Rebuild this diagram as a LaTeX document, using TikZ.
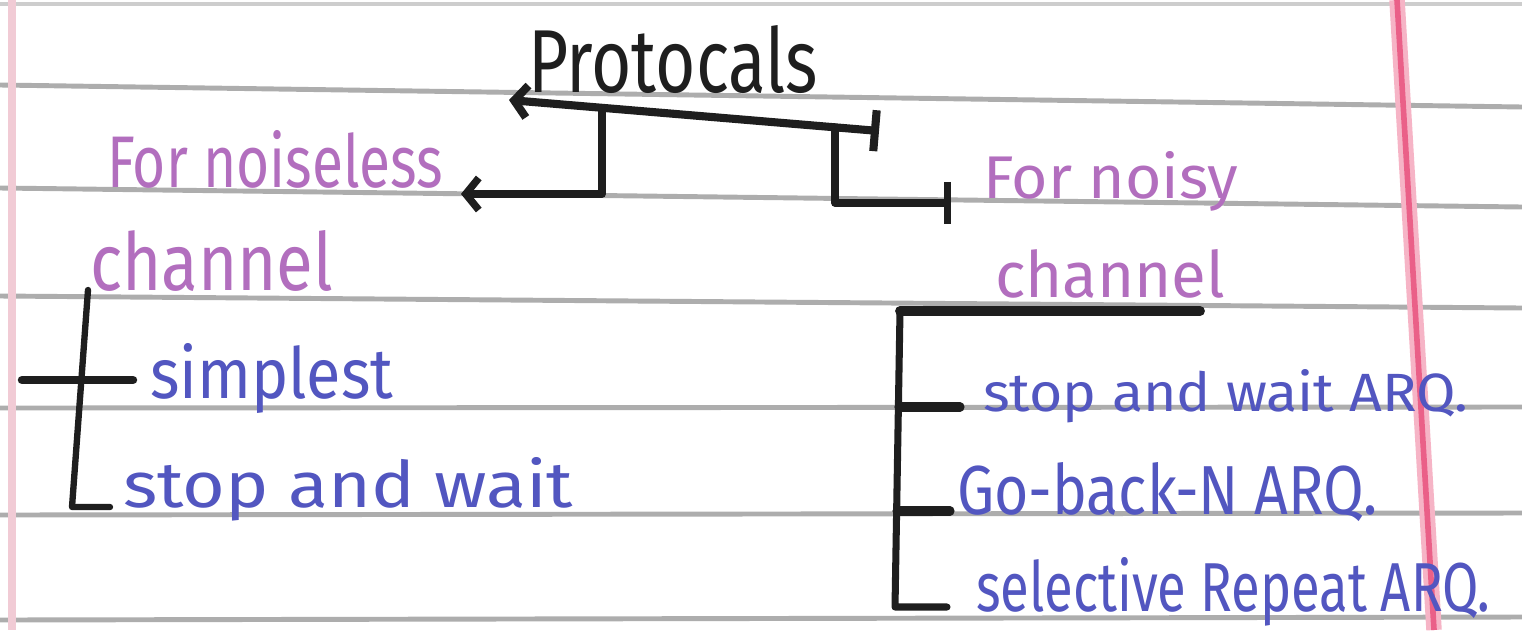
\documentclass[tikz,border=0pt]{standalone}
\usepackage{fontspec}
\setmainfont{Fira Sans}
\usetikzlibrary{arrows.meta,calc}
\definecolor{ink}{HTML}{1E1E1E}
\definecolor{pinkink}{HTML}{B26EBE}
\definecolor{blueink}{HTML}{5256C0}
\definecolor{rulegrey}{HTML}{ADADAD}
\definecolor{marginred}{HTML}{EA6088}
\definecolor{marginlight}{HTML}{F6B4C6}
\definecolor{leftmargin}{HTML}{F1CBD5}
\newcommand{\hw}[3]{\resizebox{#1cm}{#2cm}{#3}}
\begin{document}
\begin{tikzpicture}[x=0.01cm,y=-0.01cm,
  txt/.style={inner sep=0pt,outer sep=0pt,anchor=base west},
  pinktxt/.style={txt,text=pinkink},
  bluetxt/.style={txt,text=blueink},
  blacktxt/.style={txt,text=ink},
  ruleline/.style={draw=rulegrey,line width=1.4pt},
  conn/.style={draw=ink,line width=2.1pt,line cap=round,line join=round},
  barb/.tip={Straight Barb[length=0.13cm,width=0.32cm]},
]
% paper
\fill[white] (0,0) rectangle (1522,630);
\useasboundingbox (0,0) rectangle (1522,630);
% ruled lines
\draw[ruleline,draw opacity=0.6] (0,4) -- (1522,4);
\draw[ruleline] (0,85) -- (1522,107);
\draw[ruleline] (0,188) -- (1522,207);
\draw[ruleline] (0,296) -- (1522,308);
\draw[ruleline] (0,408) -- (1522,407);
\draw[ruleline] (0,515) -- (1522,513);
\draw[ruleline] (0,620) -- (1522,617);
% margins
\draw[leftmargin,line width=2.2pt] (12,0) -- (12,630);
\draw[marginlight,line width=4.4pt] (1397,0) -- (1434,630);
\draw[marginred,line width=1.6pt] (1397,0) -- (1434,630);

% texts
\node[blacktxt] (proto) at (528,92) {\hw{2.90}{0.67}{Protocals}};
\node[pinktxt] (nl) at (107,187) {\hw{3.36}{0.57}{For noiseless}};
\node[pinktxt] (chl) at (90,290) {\hw{2.43}{0.60}{channel}};
\node[pinktxt] (ny) at (983,198) {\hw{2.55}{0.47}{For noisy}};
\node[pinktxt] (chr) at (995,297) {\hw{2.30}{0.48}{channel}};
\node[bluetxt] (simp) at (150,398) {\hw{2.43}{0.55}{simplest}};
\node[bluetxt] (sw) at (123,507) {\hw{4.50}{0.50}{stop and wait}};
\node[bluetxt] (swarq) at (983,411) {\hw{4.85}{0.42}{stop and wait ARQ.}};
\node[bluetxt] (gbn) at (957,514) {\hw{4.20}{0.52}{Go-back-N ARQ.}};
\node[bluetxt] (sr) at (976,611) {\hw{5.14}{0.54}{selective Repeat ARQ.}};

% connector points
\coordinate (tl) at (509,100);
\coordinate (tr) at (879,131);
\coordinate (j1) at (602,108);
\coordinate (j2) at (835,127);
\coordinate (c1) at (602,194);
\coordinate (nlarr) at (461,194);
\coordinate (c2) at (835,203);
\coordinate (nyarr) at (951,203);

\draw[conn,line width=2.3pt,barb-{Bar[width=0.41cm]}] (tl) -- (tr);
\draw[conn,-barb] (j1) -- (c1) -- (nlarr);
\draw[conn,-{Bar[width=0.42cm]}] (j2) -- (c2) -- (nyarr);

% left bracket
\coordinate (lb0) at (88,290);
\coordinate (lb3) at (72,507);
\coordinate (lb3e) at (110,507);
\coordinate (lx0) at (22,380);
\coordinate (lx1) at (133,380);
\draw[conn,line width=1.8pt] (lb0) -- (lb3) -- (lb3e);
\draw[conn,line width=2.4pt] (lx0) -- (lx1);

% right bracket
\coordinate (rb0) at (1200,311);
\coordinate (rb1) at (900,311);
\coordinate (rb4) at (895,607);
\coordinate (rb4e) at (947,607);
\coordinate (rb2) at (899,407);
\coordinate (rb2e) at (960,407);
\coordinate (rb3) at (897,511);
\coordinate (rb3e) at (950,511);
\draw[conn,line width=2.8pt] (rb0) -- (rb1);
\draw[conn,line width=2.0pt] (rb1) -- (rb4) -- (rb4e);
\draw[conn,line width=2.6pt] (rb2) -- (rb2e);
\draw[conn,line width=2.6pt] (rb3) -- (rb3e);
\end{tikzpicture}
\end{document}
